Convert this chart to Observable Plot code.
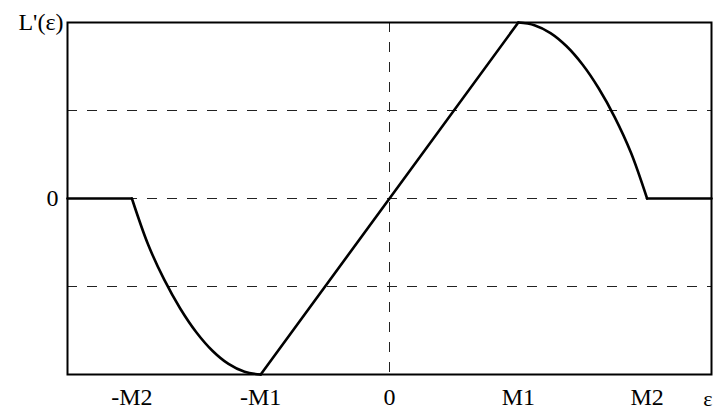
<!DOCTYPE html>
<html>
<head>
<meta charset="utf-8">
<script src="https://cdn.jsdelivr.net/npm/d3@7"></script>
<script src="https://cdn.jsdelivr.net/npm/@observablehq/plot@0.6"></script>
<style>
  html, body { margin: 0; padding: 0; background: #fff; }
  svg { display: block; }
</style>
</head>
<body>
<div id="chart"></div>
<script>
// Tick positions and labels
const xTicks = [-2, -1, 0, 1, 2];
const xTickLabels = ["-M2", "-M1", "0", "M1", "M2"];
const yTicks = [0];
const yTickLabels = ["0"];
const gridY = [-0.5, 0, 0.5];
const gridX = [0];

// Curve pieces (x in units of M1, y normalized)
const flatLeftX = [-2.5, -2];
const flatLeftY = [0, 0];
const dropLeftX = [-2, -1.875, -1.75, -1.625, -1.5, -1.375, -1.25, -1.125, -1];
const dropLeftY = [0, -0.26, -0.46, -0.625, -0.76, -0.865, -0.94, -0.985, -1];
const riseX = [-1, 1];
const riseY = [-1, 1];
const dropRightX = [1, 1.125, 1.25, 1.375, 1.5, 1.625, 1.75, 1.875, 2];
const dropRightY = [1, 0.985, 0.94, 0.865, 0.76, 0.625, 0.46, 0.26, 0];
const flatRightX = [2, 2.5];
const flatRightY = [0, 0];

const pieces = [
  ["flatL", flatLeftX, flatLeftY],
  ["dropL", dropLeftX, dropLeftY],
  ["rise", riseX, riseY],
  ["dropR", dropRightX, dropRightY],
  ["flatR", flatRightX, flatRightY]
];
const curve = pieces.flatMap(([id, xs, ys]) => xs.map((x, i) => ({id, x, y: ys[i]})));

const font = "'Liberation Serif', 'Times New Roman', serif";

const chart = Plot.plot({
  width: 713,
  height: 411,
  marginLeft: 67,
  marginRight: 2,
  marginTop: 22,
  marginBottom: 37,
  style: {fontFamily: font, fontSize: "24px", color: "black", background: "white"},
  x: {domain: [-2.5, 2.5]},
  y: {domain: [-1, 1]},
  marks: [
    Plot.ruleY(gridY, {stroke: "#222", strokeWidth: 1, strokeDasharray: "10,10"}),
    Plot.ruleX(gridX, {stroke: "#222", strokeWidth: 1, strokeDasharray: "10,10"}),
    Plot.line(curve, {x: "x", y: "y", z: "id", curve: "catmull-rom", stroke: "black", strokeWidth: 2.6}),
    Plot.frame({stroke: "black", strokeWidth: 2}),
    Plot.axisX({ticks: xTicks, tickFormat: (d) => xTickLabels[xTicks.indexOf(d)], tickSize: 0, tickPadding: 13, fontSize: 24, label: null}),
    Plot.axisY({ticks: yTicks, tickFormat: (d) => yTickLabels[yTicks.indexOf(d)], tickSize: 0, tickPadding: 9, fontSize: 24, label: null}),
    Plot.text(["L'(ε)"], {frameAnchor: "top-left", textAnchor: "end", lineAnchor: "middle", dx: -4, dy: 0, fontSize: 24, fill: "black"}),
    Plot.text(["ε"], {frameAnchor: "bottom-right", textAnchor: "end", lineAnchor: "middle", dx: 1, dy: 24, fontSize: 22, fill: "black"})
  ]
});
document.getElementById("chart").appendChild(chart);
</script>
</body>
</html>
